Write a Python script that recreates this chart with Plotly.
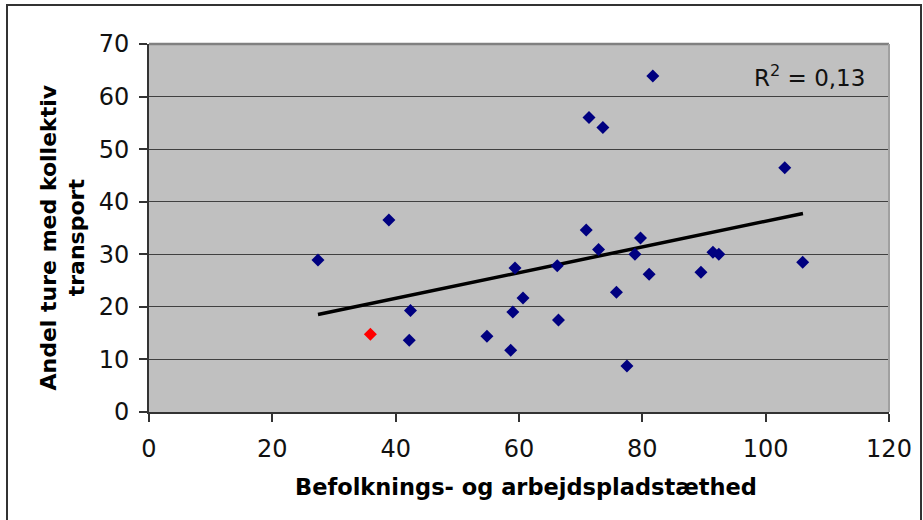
import plotly.graph_objects as go

# Blue points (density, share of trips by public transport)
x_blue = [27.4, 38.9, 42.4, 42.2, 54.8, 59.35, 60.65, 59.0, 58.65, 66.2, 66.4,
          70.9, 72.9, 75.8, 77.5, 78.8, 79.7, 81.1, 89.5, 91.45, 92.4, 106.0,
          81.7, 71.35, 73.6, 103.1]
y_blue = [28.9, 36.5, 19.3, 13.65, 14.4, 27.4, 21.7, 19.0, 11.75, 27.8, 17.5,
          34.6, 30.9, 22.8, 8.76, 30.0, 33.1, 26.2, 26.6, 30.4, 30.0, 28.5,
          63.9, 56.0, 54.1, 46.45]
# Highlighted point
x_red = [35.9]
y_red = [14.8]
# Linear trend line endpoints
trend_x = [27.4, 106.05]
trend_y = [18.54, 37.77]
r2_text = "R<sup>2</sup> = 0,13"

x_ticks = [0, 20, 40, 60, 80, 100, 120]
y_ticks = [0, 10, 20, 30, 40, 50, 60, 70]
x_title = "Befolknings- og arbejdspladstæthed"
y_title = "Andel ture med kollektiv<br>transport"

FONT = "DejaVu Sans"

fig = go.Figure()
fig.add_trace(go.Scatter(x=trend_x, y=trend_y, mode="lines",
                         line=dict(color="black", width=3.5), showlegend=False,
                         hoverinfo="skip"))
fig.add_trace(go.Scatter(x=x_blue, y=y_blue, mode="markers",
                         marker=dict(symbol="diamond", size=10, color="#000080",
                                     line=dict(width=0)),
                         showlegend=False))
fig.add_trace(go.Scatter(x=x_red, y=y_red, mode="markers",
                         marker=dict(symbol="diamond", size=10, color="#FF0000",
                                     line=dict(width=0)),
                         showlegend=False))

L, R, T, B = 149, 34, 44, 108
W, H = 923, 520
pw, ph = W - L - R, H - T - B

def px_x(p):
    return (p - L) / pw

def px_y(p):
    return (H - B - p) / ph

fig.update_layout(
    width=W, height=H,
    margin=dict(l=L, r=R, t=T, b=B, pad=0),
    paper_bgcolor="white",
    plot_bgcolor="#C0C0C0",
    font=dict(family=FONT, color="black"),
    xaxis=dict(range=[0, 120], tickvals=x_ticks, showgrid=False, zeroline=False,
               showline=True, linecolor="#333333", linewidth=2,
               ticks="outside", ticklen=8, tickwidth=1.5, tickcolor="#333333",
               ticklabelstandoff=6,
               tickfont=dict(size=24, family=FONT, color="#111111")),
    yaxis=dict(range=[0, 70], tickvals=y_ticks, showgrid=True, gridcolor="#404040",
               gridwidth=1.2, zeroline=False,
               showline=True, linecolor="#333333", linewidth=2,
               ticks="outside", ticklen=8, tickwidth=1.5, tickcolor="#333333",
               ticklabelstandoff=5,
               tickfont=dict(size=24, family=FONT, color="#111111")),
    shapes=[
        dict(type="line", xref="paper", yref="paper", x0=0, x1=1, y0=1, y1=1,
             line=dict(color="#808080", width=2.5)),
        dict(type="line", xref="paper", yref="paper", x0=1, x1=1, y0=0, y1=1,
             line=dict(color="#A0A0A0", width=2)),
        dict(type="rect", xref="paper", yref="paper",
             x0=px_x(7), x1=px_x(921), y0=px_y(5), y1=px_y(530),
             line=dict(color="#333333", width=2), layer="below"),
    ],
    annotations=[
        dict(text=r2_text, xref="paper", yref="paper", x=px_x(867), y=px_y(76),
             xanchor="right", yanchor="middle", showarrow=False,
             font=dict(size=23, family=FONT, color="#111111")),
        dict(text="<b>" + x_title + "</b>", xref="paper", yref="paper",
             x=px_x(525.5), y=px_y(487), xanchor="center", yanchor="middle",
             showarrow=False, font=dict(size=22.5, family=FONT, color="black")),
        dict(text="<b>" + y_title + "</b>", xref="paper", yref="paper",
             x=px_x(62.5), y=px_y(238), xanchor="center", yanchor="middle",
             textangle=-90, showarrow=False,
             font=dict(size=22, family=FONT, color="black")),
    ],
)

fig.write_html("out.html")
